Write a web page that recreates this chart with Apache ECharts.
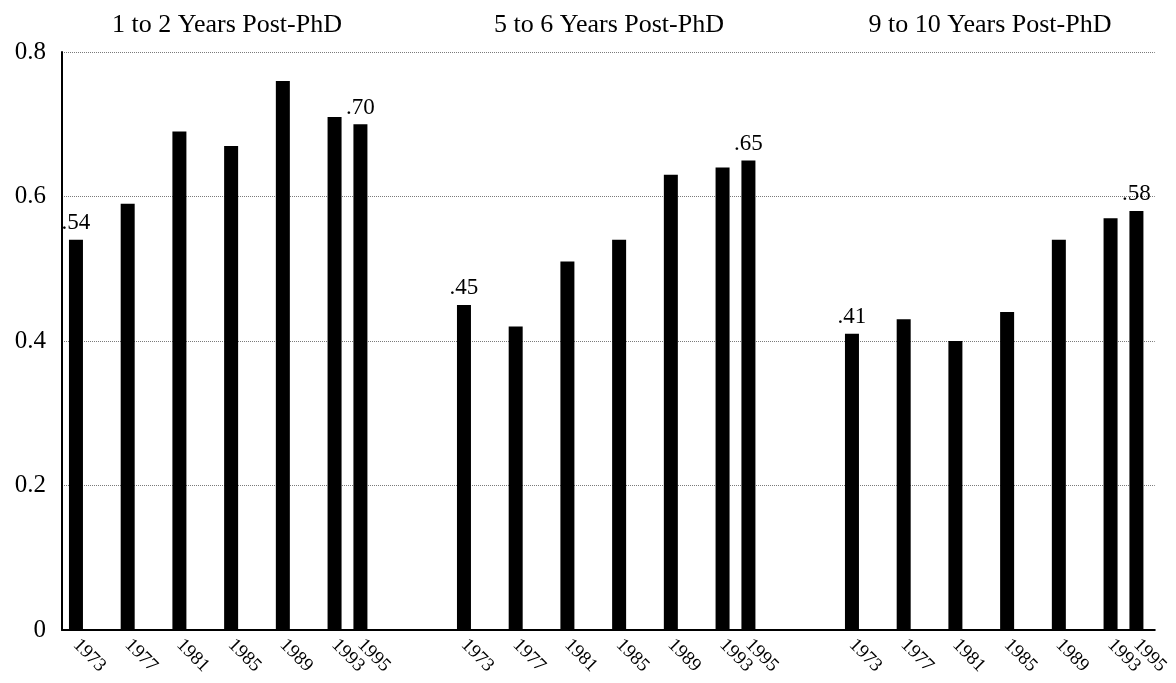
<!DOCTYPE html>
<html><head><meta charset="utf-8">
<script src="https://cdn.jsdelivr.net/npm/echarts@6/dist/echarts.min.js"></script>
<style>html,body{margin:0;padding:0;background:#fff}#c{width:1176px;height:683px}</style>
</head><body><div id="c"></div>
<script>
const years = [1973, 1977, 1981, 1985, 1989, 1993, 1995];
const panelTitles = ['1 to 2 Years Post-PhD', '5 to 6 Years Post-PhD', '9 to 10 Years Post-PhD'];
const valuesEarly = [0.54, 0.59, 0.69, 0.67, 0.76, 0.71, 0.70];
const valuesMid   = [0.45, 0.42, 0.51, 0.54, 0.63, 0.64, 0.65];
const valuesLate  = [0.41, 0.43, 0.40, 0.44, 0.54, 0.57, 0.58];
const yTicks = [0, 0.2, 0.4, 0.6, 0.8];

const panels = [valuesEarly, valuesMid, valuesLate];
const FONT = '"Liberation Serif", "DejaVu Serif", serif';
const pxPerYear = 12.93;
const xMin = 1971.92;
const gridLeft = [62, 450, 838];
const gridSpanYears = [30, 30, 24.5];
const titleCenters = [222, 604, 985];

const grids = [], xAxes = [], yAxes = [], series = [], titles = [];
const xLabelStyle = {rotate: -45, color: '#000', fontFamily: FONT, fontSize: 19, margin: 12,
  hideOverlap: false, formatter: v => String(Math.round(v))};
panels.forEach((vals, p) => {
  const w = gridSpanYears[p] * pxPerYear;
  grids.push({left: gridLeft[p], width: w, top: 52, bottom: 53, containLabel: false});
  // main axis: all years but the last (the last one overlaps and is drawn by a second axis)
  xAxes.push({
    type: 'value', gridIndex: p, min: xMin, max: xMin + gridSpanYears[p],
    axisLine: {show: true, onZero: false, lineStyle: {color: '#000', width: 2}},
    axisTick: {show: false}, splitLine: {show: false},
    axisLabel: Object.assign({customValues: years.slice(0, -1)}, xLabelStyle)
  });
  xAxes.push({
    type: 'value', gridIndex: p, min: xMin, max: xMin + gridSpanYears[p], position: 'bottom',
    axisLine: {show: false, onZero: false}, axisTick: {show: false}, splitLine: {show: false},
    axisLabel: Object.assign({customValues: years.slice(-1)}, xLabelStyle)
  });
  yAxes.push({
    type: 'value', gridIndex: p, min: 0, max: 0.8, interval: 0.2,
    axisLine: {show: p === 0, lineStyle: {color: '#000', width: 2}},
    axisTick: {show: false},
    axisLabel: {show: p === 0, color: '#000', fontFamily: FONT, fontSize: 25, margin: 16,
      formatter: v => v === 0 ? '0' : v.toFixed(1)},
    splitLine: {show: true, lineStyle: {color: '#7a7a7a', type: 'dotted', width: 1}}
  });
  series.push({
    type: 'bar', xAxisIndex: 2 * p, yAxisIndex: p, barWidth: 14,
    itemStyle: {color: '#000'},
    label: {show: false, position: 'top', color: '#000', fontFamily: FONT, fontSize: 23, distance: 5,
      formatter: prm => '.' + String(Math.round(prm.value[1] * 100)).padStart(2, '0')},
    data: vals.map((v, i) => ({value: [years[i], v], label: {show: i === 0 || i === vals.length - 1}}))
  });
  titles.push({text: panelTitles[p], left: titleCenters[p], top: 7, textAlign: 'center',
    textStyle: {fontFamily: FONT, fontSize: 26, fontWeight: 'normal', color: '#000'}});
});

const chart = echarts.init(document.getElementById('c'));
chart.setOption({
  animation: false,
  backgroundColor: '#fff',
  title: titles,
  grid: grids, xAxis: xAxes, yAxis: yAxes, series: series
});
</script></body></html>
